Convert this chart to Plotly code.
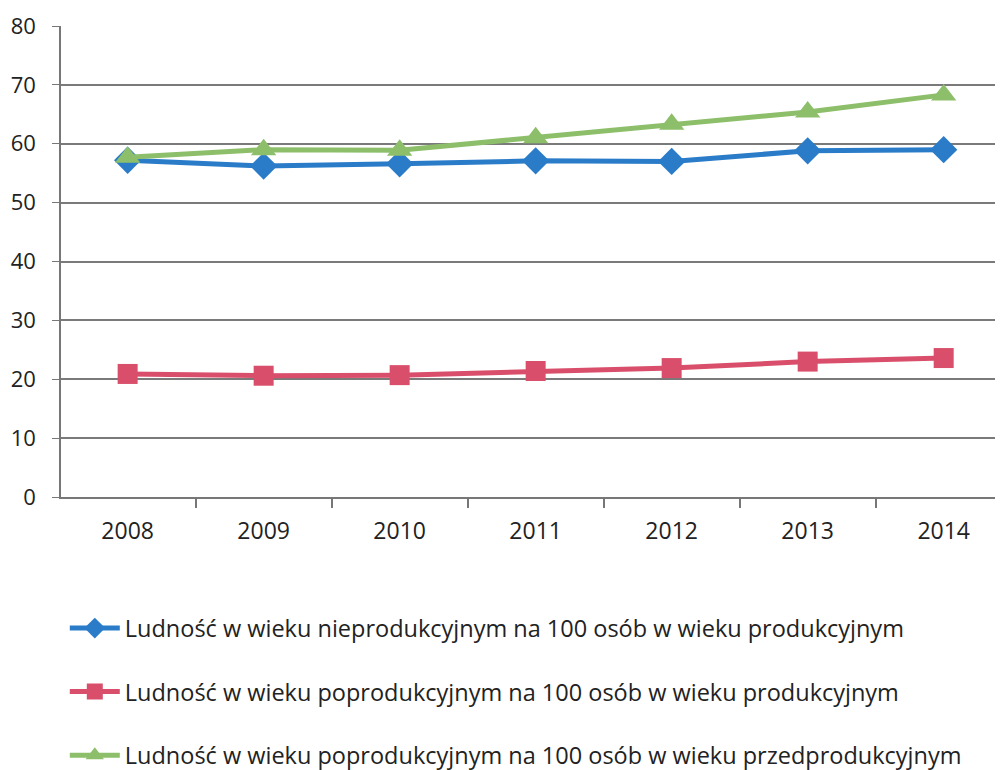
import plotly.graph_objects as go

years = ["2008", "2009", "2010", "2011", "2012", "2013", "2014"]
nieprod = [57.2, 56.2, 56.6, 57.1, 57.0, 58.8, 59.0]
poprod = [20.9, 20.6, 20.7, 21.4, 21.9, 23.0, 23.6]
poprod_przed = [57.7, 59.0, 58.9, 61.0, 63.3, 65.4, 68.3]

names = [
    "Ludność w wieku nieprodukcyjnym na 100 osób w wieku produkcyjnym",
    "Ludność w wieku poprodukcyjnym na 100 osób w wieku produkcyjnym",
    "Ludność w wieku poprodukcyjnym na 100 osób w wieku przedprodukcyjnym",
]
colors = ["#2a7cc9", "#d94f6b", "#8dbf6a"]
symbols = ["diamond", "square", "triangle-up"]
sizes = [21, 20, 22]
series = [nieprod, poprod, poprod_przed]

fig = go.Figure()
for i, (vals, nm, c, s, sz) in enumerate(zip(series, names, colors, symbols, sizes)):
    fig.add_trace(go.Scatter(
        x=years, y=vals, name=nm, mode="lines+markers",
        line=dict(color=c, width=5),
        marker=dict(symbol=s, size=sz, color=c),
        legendgroup=f"g{i}",
    ))

font = "Open Sans, sans-serif"
fig.update_layout(
    width=1003, height=770,
    paper_bgcolor="white", plot_bgcolor="white",
    margin=dict(l=53, r=0, t=18, b=281, autoexpand=False),
    font=dict(family=font, size=23, color="#222"),
    showlegend=True,
    legend=dict(
        x=0.004, y=-0.232, xanchor="left", yanchor="top",
        orientation="v", tracegroupgap=30,
        font=dict(size=23.5, family=font, color="#222"),
        itemwidth=50,
    ),
)
fig.update_xaxes(
    type="category", range=[-0.49, 6.495], tickson="boundaries",
    ticks="outside", ticklen=9, tickcolor="#777", tickwidth=1.5,
    showgrid=False, showline=True, linecolor="#777", linewidth=1.5,
    tickfont=dict(size=23), ticklabelstandoff=13,
)
fig.update_yaxes(
    range=[0, 80], dtick=10, ticks="outside", ticklen=7, tickcolor="#777",
    showgrid=True, gridcolor="#7a7a7a", gridwidth=1.5,
    showline=True, linecolor="#777", linewidth=1.5, zeroline=False,
    tickfont=dict(size=22), ticklabelstandoff=12, ticklabeloverflow="allow",
)
fig.write_html("out.html")
